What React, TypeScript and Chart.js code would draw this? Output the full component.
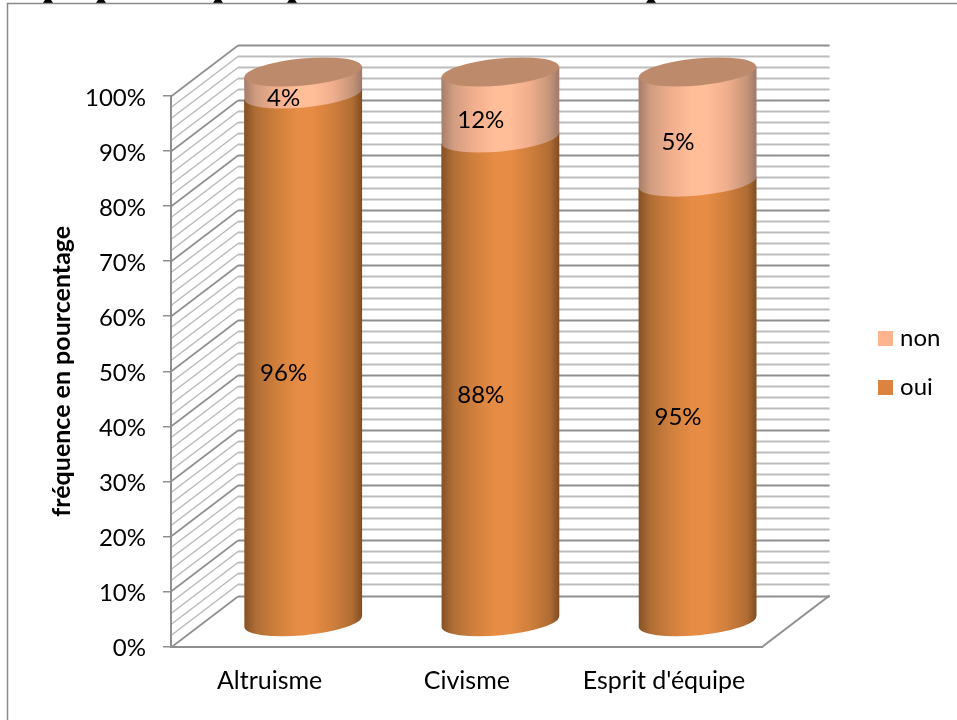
import React, { useEffect, useRef } from "react";
import { Chart, registerables } from "chart.js";

Chart.register(...registerables);

const categories = ["Altruisme", "Civisme", "Esprit d'équipe"];
const ouiValues = [96, 88, 80];
const nonValues = [4, 12, 20];
const ouiLabels = ["96%", "88%", "95%"];
const nonLabels = ["4%", "12%", "5%"];
const yTicksMax = 100;
const minorStep = 2;

const FONT = "Lato, Carlito, 'Noto Sans', sans-serif";
const DEPTH_X = 67;
const DEPTH_Y = -51;
const BAR_SHIFT_Y = 1.5;
const OUI_STOPS = ["#845024", "#b06e35", "#cf7f3c", "#e68c45", "#e68c45", "#d07f3c", "#b06c33", "#7f4d22"];
const NON_STOPS = ["#a67c68", "#d19c80", "#f0ae8d", "#ffbd98", "#ffbd98", "#f0ae8d", "#c49478", "#a0786a"];
const STOP_AT = [0, 0.1, 0.27, 0.45, 0.58, 0.75, 0.92, 1];
const TOP_COLOR = "#bd8a6c";
const TILT = -0.095;
const MINOR_B = 13.5;
const MARKS = [48, 101, 218, 292, 651];

function swatch(color: string) {
  const c = document.createElement("canvas");
  c.width = 15;
  c.height = 15;
  const g = c.getContext("2d")!;
  g.fillStyle = color;
  g.fillRect(0, 0, 15, 15);
  return c;
}

const scene = {
  id: "scene",
  beforeDraw(chart: any) {
    const { ctx, chartArea: a, scales } = chart;
    const y = scales.y;
    ctx.save();
    ctx.fillStyle = "#ffffff";
    ctx.fillRect(0, 0, chart.width, chart.height);
    ctx.fillStyle = "#000000";
    MARKS.forEach((m) => {
      ctx.beginPath();
      ctx.moveTo(m - 3, 0);
      ctx.lineTo(m + 3, 0);
      ctx.lineTo(m + 5, 3);
      ctx.lineTo(m - 5, 3);
      ctx.fill();
    });
    ctx.strokeStyle = "#8a8a8a";
    ctx.lineWidth = 1.5;
    ctx.beginPath();
    ctx.moveTo(7.5, chart.height);
    ctx.lineTo(7.5, 3.5);
    ctx.lineTo(chart.width, 3.5);
    ctx.stroke();

    for (let v = 0; v <= yTicksMax; v += minorStep) {
      const py = Math.round(y.getPixelForValue(v)) + 0.5;
      const major = v % 10 === 0;
      ctx.strokeStyle = major ? "#8f8f8f" : "#bdbdbd";
      ctx.lineWidth = major ? 2 : 1.8;
      ctx.beginPath();
      ctx.moveTo(a.left + DEPTH_X, py + DEPTH_Y);
      ctx.lineTo(a.right + DEPTH_X, py + DEPTH_Y);
      ctx.stroke();
      ctx.strokeStyle = major ? "#8f8f8f" : "#b8b8b8";
      ctx.lineWidth = major ? 1.6 : 1.4;
      ctx.beginPath();
      ctx.moveTo(a.left, py);
      ctx.lineTo(a.left + DEPTH_X, py + DEPTH_Y);
      ctx.stroke();
    }
    const base = y.getPixelForValue(0);
    ctx.strokeStyle = "#8f8f8f";
    ctx.lineWidth = 2;
    ctx.beginPath();
    ctx.moveTo(a.right, base);
    ctx.lineTo(a.right + DEPTH_X, base + DEPTH_Y);
    ctx.stroke();
    ctx.restore();
  },
  beforeDatasetDraw() {
    return false;
  },
  beforeDatasetsDraw(chart: any) {
    const { ctx } = chart;
    const stops = [OUI_STOPS, NON_STOPS];
    chart.data.datasets.forEach((_: any, d: number) => {
      chart.getDatasetMeta(d).data.forEach((el: any) => {
        const half = el.width / 2;
        const cx = el.x + DEPTH_X / 2;
        const top = el.y + DEPTH_Y / 2 + BAR_SHIFT_Y;
        const bot = el.base + DEPTH_Y / 2 + BAR_SHIFT_Y;
        const rise = half * Math.sin(-TILT);
        const grad = ctx.createLinearGradient(cx - half, 0, cx + half, 0);
        stops[d].forEach((c, i) => grad.addColorStop(STOP_AT[i], c));
        ctx.save();
        ctx.fillStyle = grad;
        ctx.beginPath();
        ctx.moveTo(cx - half, top + rise);
        ctx.lineTo(cx + half, top - rise);
        ctx.lineTo(cx + half, bot - rise);
        ctx.ellipse(cx, bot, half, MINOR_B, TILT, 0, Math.PI);
        ctx.closePath();
        ctx.fill();
        if (d === chart.data.datasets.length - 1) {
          ctx.fillStyle = TOP_COLOR;
          ctx.beginPath();
          ctx.ellipse(cx, top, half, MINOR_B, TILT, 0, Math.PI * 2);
          ctx.fill();
        }
        ctx.restore();
      });
    });
  },
  afterDatasetsDraw(chart: any) {
    const { ctx } = chart;
    const texts = [ouiLabels, nonLabels];
    ctx.save();
    ctx.font = `24px ${FONT}`;
    ctx.fillStyle = "#000000";
    ctx.textAlign = "center";
    ctx.textBaseline = "middle";
    chart.data.datasets.forEach((_: any, d: number) => {
      chart.getDatasetMeta(d).data.forEach((el: any, i: number) => {
        ctx.fillText(texts[d][i], el.x + 14, (el.y + el.base) / 2 - 9);
      });
    });
    ctx.restore();
  },
};

export default function App() {
  const ref = useRef<HTMLCanvasElement | null>(null);
  useEffect(() => {
    const chart = new Chart(ref.current!, {
      type: "bar",
      data: {
        labels: categories,
        datasets: [
          { label: "oui", data: ouiValues, backgroundColor: "#dc843f", barThickness: 118, stack: "s" },
          { label: "non", data: nonValues, backgroundColor: "#fdb48f", barThickness: 118, stack: "s" },
        ],
      },
      options: {
        responsive: false,
        animation: false,
        layout: { padding: { top: 5, right: 6.5, left: 0, bottom: 0 } },
        plugins: {
          tooltip: { enabled: false },
          title: { display: false },
          legend: {
            position: "right",
            reverse: true,
            labels: {
              usePointStyle: true,
              pointStyleWidth: 6,
              boxHeight: 15,
              padding: 25,
              color: "#000000",
              font: { family: FONT, size: 24 },
              generateLabels(chart: any) {
                return chart.data.datasets.map((ds: any, i: number) => ({
                  text: ds.label,
                  datasetIndex: i,
                  fillStyle: ds.backgroundColor,
                  strokeStyle: ds.backgroundColor,
                  lineWidth: 0,
                  pointStyle: swatch(ds.backgroundColor),
                  hidden: false,
                }));
              },
            },
          },
        },
        scales: {
          x: {
            stacked: true,
            grid: { display: false },
            border: { color: "#8f8f8f", width: 2 },
            ticks: { color: "#000000", padding: 11, maxRotation: 0, font: { family: FONT, size: 25 } },
            afterFit(s: any) {
              s.height = 73.5;
            },
          },
          y: {
            stacked: true,
            min: 0,
            max: yTicksMax,
            border: { color: "#8f8f8f", width: 2 },
            grid: { drawOnChartArea: false, tickLength: 8, color: "#8f8f8f", lineWidth: 1.5 },
            ticks: {
              stepSize: 10,
              padding: 17,
              labelOffset: 2,
              color: "#000000",
              font: { family: FONT, size: 24 },
              callback: (v: any) => `${v}%`,
            },
            title: {
              display: true,
              text: "fréquence en pourcentage",
              color: "#000000",
              font: { family: FONT, size: 25, weight: "bold" },
              padding: { top: 47, bottom: 0 },
            },
            afterFit(s: any) {
              s.width = 171;
            },
          },
          gapRight: {
            type: "linear",
            position: "right",
            display: true,
            grid: { display: false },
            border: { display: false },
            ticks: { display: false },
            afterFit(s: any) {
              s.width = 94.5;
            },
          },
          gapTop: {
            type: "linear",
            axis: "x",
            position: "top",
            display: true,
            grid: { display: false },
            border: { display: false },
            ticks: { display: false },
            afterFit(s: any) {
              s.height = 91;
            },
          },
        },
      } as any,
      plugins: [scene],
    });
    return () => chart.destroy();
  }, []);
  return <canvas ref={ref} width={957} height={720} style={{ position: "absolute", left: 0, top: 0 }} />;
}
